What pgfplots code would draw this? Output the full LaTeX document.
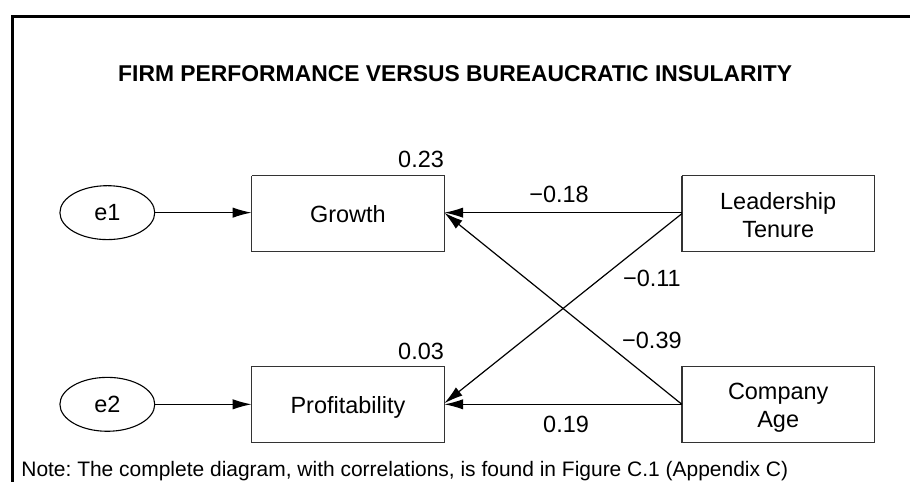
\documentclass[border=0pt]{standalone}
\usepackage{fontspec}
\setmainfont{Liberation Sans}
\usepackage{pgfplots}
\pgfplotsset{compat=1.18}
\usetikzlibrary{arrows.meta}
\frenchspacing

\tikzset{
  box/.style={draw=black!80, line width=0.75pt, line join=miter},
  arr/.style={black, line width=0.6pt, -{Latex[length=9.5pt,width=5.2pt]}},
  txt/.style={font=\fontsize{11.75}{14}\selectfont, inner sep=0pt, anchor=base},
}

\begin{document}
\begin{tikzpicture}
\begin{axis}[
  width=455.5pt, height=241.5pt, scale only axis,
  xmin=0, xmax=911, ymin=0, ymax=483, y dir=reverse,
  hide axis, clip=false,
]
\path (rel axis cs:0,0) rectangle (rel axis cs:1,1);

% frame (top and left only)
\addplot[black, line width=1.5pt] coordinates {(911,16.5)(12.5,16.5)(12.5,483)};

% boxes
\addplot[box] coordinates {(252,176)(445,176)(445,252)(252,252)(252,176)};
\addplot[box] coordinates {(252,367)(445,367)(445,443)(252,443)(252,367)};
\addplot[box] coordinates {(683,176)(876,176)(876,252)(683,252)(683,176)};
\addplot[box] coordinates {(683,367)(876,367)(876,443)(683,443)(683,367)};

% error terms
\draw[line width=0.55pt] (axis cs:107.5,213) ellipse [x radius=47.5, y radius=27];
\draw[line width=0.55pt] (axis cs:107.5,405) ellipse [x radius=47.5, y radius=27];

% paths
\addplot[arr] coordinates {(155,213)(252,213)};
\addplot[arr] coordinates {(155,405)(252,405)};
\addplot[arr] coordinates {(683,213)(445,213)};
\addplot[arr] coordinates {(683,214)(445,404)};
\addplot[arr] coordinates {(683,405)(445,213)};
\addplot[arr] coordinates {(683,405)(445,405)};

% variable names
\node[txt] at (axis cs:107.5,221) {e1};
\node[txt] at (axis cs:107.5,413) {e2};
\node[txt] at (axis cs:348.5,223) {Growth};
\node[txt] at (axis cs:348.5,414) {Profitability};
\node[txt] at (axis cs:779.5,210) {Leadership};
\node[txt] at (axis cs:779.5,238) {Tenure};
\node[txt] at (axis cs:779.5,400) {Company};
\node[txt] at (axis cs:779.5,428) {Age};

% estimates
\node[txt, anchor=base east] at (axis cs:445,168) {0.23};
\node[txt, anchor=base east] at (axis cs:445,360) {0.03};
\node[txt] at (axis cs:560,203) {−0.18};
\node[txt] at (axis cs:653,287) {−0.11};
\node[txt] at (axis cs:653,349) {−0.39};
\node[txt] at (axis cs:567,433) {0.19};

% title and note
\node[font=\fontsize{11.45}{13}\selectfont\bfseries, inner sep=0pt, anchor=base] at (axis cs:456,82) {FIRM PERFORMANCE VERSUS BUREAUCRATIC INSULARITY};
\node[font=\fontsize{10.5}{12}\selectfont, inner sep=0pt, anchor=base west] at (axis cs:21,477) {Note: The complete diagram, with correlations, is found in Figure C.1 (Appendix C)};
\end{axis}
\end{tikzpicture}
\end{document}
